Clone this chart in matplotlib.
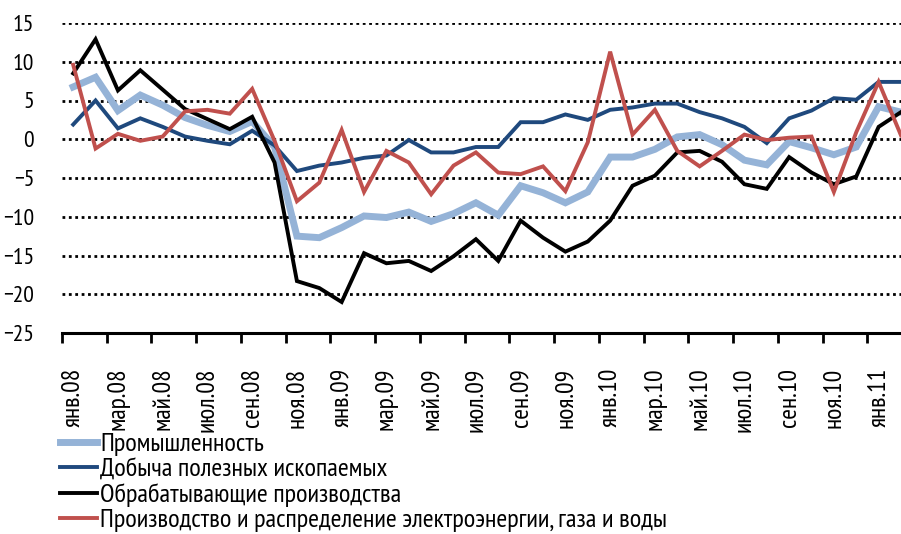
''' Monthly industrial production growth, Russia, Jan 2008 - Feb 2011. '''

import matplotlib
matplotlib.use("Agg")
import matplotlib.pyplot as plt
from matplotlib.ticker import FixedLocator

plt.rcParams['font.family'] = ['PT Sans Narrow', 'Roboto Condensed', 'Liberation Sans', 'DejaVu Sans']

MONTHS = ['янв', 'фев', 'мар', 'апр', 'май', 'июн',
          'июл', 'авг', 'сен', 'окт', 'ноя', 'дек']
YEARS = ['08', '09', '10', '11']
labels = [f"{m}.{y}" for y in YEARS for m in MONTHS][:38]

industry = [6.75, 8.0, 3.7, 5.7, 4.4, 2.8, 1.8, 1.0, 2.3, -1.0,
            -12.5, -12.7, -11.4, -9.9, -10.1, -9.4, -10.6, -9.6, -8.2, -9.8,
            -6.0, -6.9, -8.2, -6.8, -2.3, -2.3, -1.3, 0.3, 0.6, -0.7,
            -2.7, -3.3, -0.3, -1.1, -2.0, -1.0, 4.2, 3.5]
mining = [1.9, 5.0, 1.4, 2.7, 1.6, 0.35, -0.2, -0.65, 1.1, -0.8,
          -4.1, -3.4, -3.0, -2.4, -2.1, -0.1, -1.7, -1.7, -1.0, -1.0,
          2.2, 2.2, 3.2, 2.5, 3.8, 4.1, 4.6, 4.6, 3.5, 2.7,
          1.6, -0.5, 2.7, 3.7, 5.3, 5.1, 7.4, 7.4]
manufacturing = [8.5, 12.9, 6.3, 8.9, 6.4, 3.9, 2.6, 1.3, 2.9, -3.0,
                 -18.3, -19.2, -21.0, -14.7, -16.0, -15.7, -17.0, -15.1, -12.9, -15.7,
                 -10.5, -12.7, -14.5, -13.2, -10.5, -6.0, -4.7, -1.7, -1.5, -2.9,
                 -5.8, -6.4, -2.3, -4.3, -5.8, -4.8, 1.6, 3.5]
utilities = [9.6, -1.2, 0.7, -0.2, 0.35, 3.6, 3.8, 3.3, 6.5, -0.2,
             -8.0, -5.6, 1.2, -6.8, -1.5, -3.0, -7.1, -3.4, -1.7, -4.3,
             -4.5, -3.5, -6.7, -0.4, 11.3, 0.6, 3.8, -1.5, -3.5, -1.5,
             0.6, -0.1, 0.2, 0.35, -6.8, 0.9, 7.4, 0.5]

series = [
    ('Промышленность', industry, '#95B3D7', 5.0),
    ('Добыча полезных ископаемых', mining, '#1F497D', 2.8),
    ('Обрабатывающие производства', manufacturing, '#000000', 2.8),
    ('Производство и распределение электроэнергии, газа и воды', utilities, '#C0504D', 2.8),
]


def main():
    '''Main'''
    W, H = 901, 534
    fig = plt.figure(figsize=(W / 100, H / 100), dpi=100)
    ax = fig.add_axes([62 / W, (H - 333) / H, 839 / W, (333 - 23) / H])

    x = list(range(len(labels)))
    for name, values, color, lw in series:
        ax.plot(x, values, color=color, linewidth=lw, label=name,
                solid_joinstyle='miter')

    ax.set_xlim(-0.5, 37.0)
    ax.set_ylim(-25, 15)
    ax.set_yticks(range(-25, 16, 5))
    ax.tick_params(axis='y', length=0, pad=20, labelsize=17)
    for y in range(-20, 16, 5):
        ax.axhline(y, color='black', linewidth=2.0, linestyle=(0, (1, 1.3)), zorder=0)

    ax.xaxis.set_major_locator(FixedLocator(x[::2]))
    ax.set_xticklabels(labels[::2], rotation=90, fontsize=18.5)
    ax.tick_params(axis='x', which='major', length=0, pad=25)
    ax.xaxis.set_minor_locator(FixedLocator([i - 0.5 for i in x[::2]]))
    ax.tick_params(axis='x', which='minor', length=7, width=2, direction='out')

    for side in ('top', 'right', 'left'):
        ax.spines[side].set_visible(False)
    ax.spines['bottom'].set_linewidth(2.2)

    fig.legend(loc='upper left', bbox_to_anchor=(60 / W, (H - 433) / H),
               frameon=False, fontsize=19, handlelength=1.42, handletextpad=0.1,
               labelspacing=0.06, borderaxespad=0, borderpad=0)

    fig.savefig('out.png', dpi=100)


if __name__ == "__main__":
    main()
